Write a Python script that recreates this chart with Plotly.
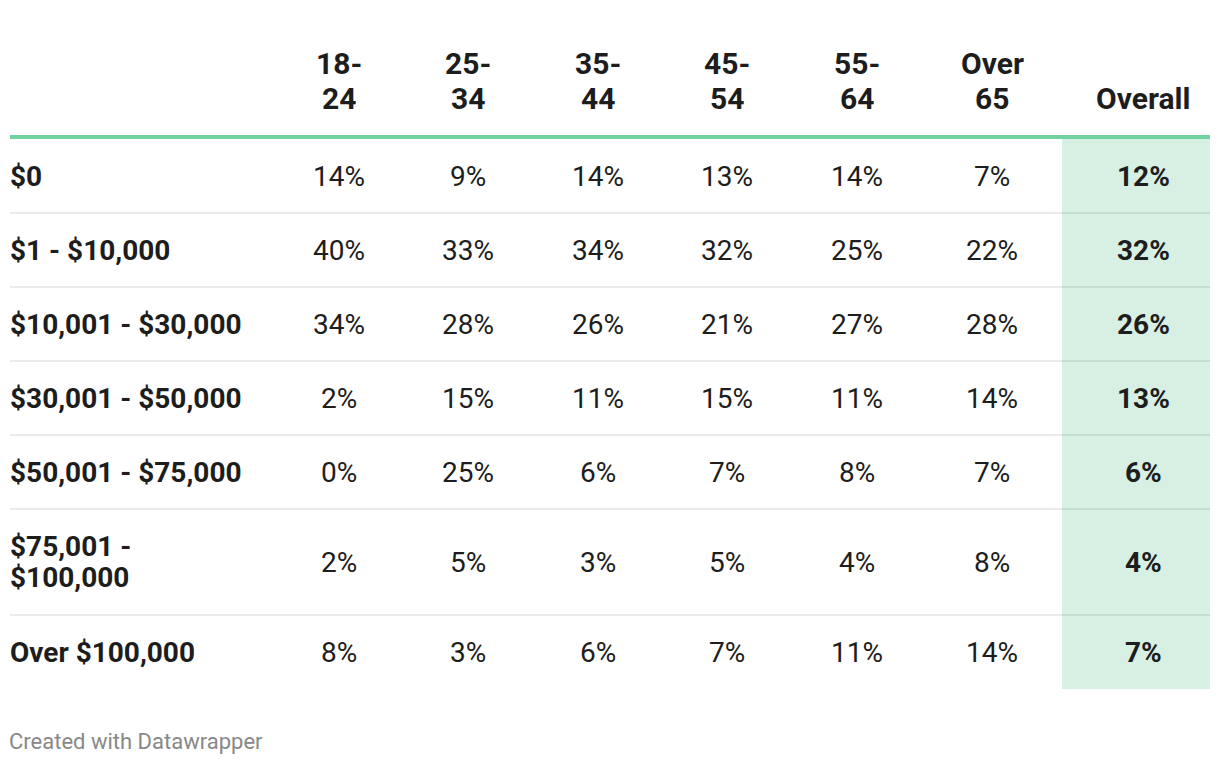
import plotly.graph_objects as go

# ---- data ----
col_labels = ["18-<br>24", "25-<br>34", "35-<br>44", "45-<br>54", "55-<br>64", "Over<br>65", "Overall"]
row_labels = ["$0", "$1 - $10,000", "$10,001 - $30,000", "$30,001 - $50,000",
              "$50,001 - $75,000", "$75,001 -<br>$100,000", "Over $100,000"]
age_18_24 = [14, 40, 34, 2, 0, 2, 8]
age_25_34 = [9, 33, 28, 15, 25, 5, 3]
age_35_44 = [14, 34, 26, 11, 6, 3, 6]
age_45_54 = [13, 32, 21, 15, 7, 5, 7]
age_55_64 = [14, 25, 27, 11, 8, 4, 11]
age_over_65 = [7, 22, 28, 14, 7, 8, 14]
overall = [12, 32, 26, 13, 6, 4, 7]
columns = [age_18_24, age_25_34, age_35_44, age_45_54, age_55_64, age_over_65, overall]
footer = "Created with Datawrapper"

# ---- layout constants ----
W, H = 1220, 764
OFF = 8  # page body margin
left, right = 10, 1210
col_centers = [339, 468, 598, 727, 857, 992, 1143]
header_last_line_y = 98
header_line_h = 35
header_line_y = 137
table_top = 139
base_row_h = 74
extra_line_h = 32
body_line_h = 31
hl_x0 = 1062
FONT = "Roboto"
TXT = "#1d1d1d"
HEAD_SIZE = 30
BODY_SIZE = 28

fig = go.Figure()
shapes = []
annotations = []

# row bounds
row_bounds = []
y = table_top
for lab in row_labels:
    n = lab.count("<br>") + 1
    h = base_row_h + extra_line_h * (n - 1)
    row_bounds.append((y, y + h))
    y += h
table_bottom = y

# highlight column background
shapes.append(dict(type="rect", xref="x", yref="y", x0=hl_x0, x1=right,
                   y0=table_top, y1=table_bottom, fillcolor="#d7f0e3",
                   line=dict(width=0), layer="below"))

# row separators
for (y0, y1) in row_bounds[:-1]:
    shapes.append(dict(type="line", xref="x", yref="y", x0=left, x1=right,
                       y0=y1, y1=y1, line=dict(color="rgba(0,0,0,0.08)", width=2)))

# header line
shapes.append(dict(type="line", xref="x", yref="y", x0=left, x1=right,
                   y0=header_line_y, y1=header_line_y,
                   line=dict(color="#72d3a0", width=4)))

# header texts (each line placed separately for exact line height)
for cx, lab in zip(col_centers, col_labels):
    parts = lab.split("<br>")
    n = len(parts)
    for k, p in enumerate(parts):
        ly = header_last_line_y - (n - 1 - k) * header_line_h
        annotations.append(dict(x=cx, y=ly, xref="x", yref="y", text="<b>" + p + "</b>",
                                showarrow=False, xanchor="center", yanchor="middle",
                                font=dict(family=FONT, size=HEAD_SIZE, color=TXT)))

# body
for i, (lab, (y0, y1)) in enumerate(zip(row_labels, row_bounds)):
    cy = (y0 + y1) / 2
    parts = lab.split("<br>")
    n = len(parts)
    for k, p in enumerate(parts):
        ly = cy + (k - (n - 1) / 2) * body_line_h
        annotations.append(dict(x=left, y=ly, xref="x", yref="y", text="<b>" + p + "</b>",
                                showarrow=False, xanchor="left", yanchor="middle", xshift=-2,
                                font=dict(family=FONT, size=BODY_SIZE, color=TXT)))
    for j, (cx, col) in enumerate(zip(col_centers, columns)):
        t = f"{col[i]}%"
        if j == len(columns) - 1:
            t = "<b>" + t + "</b>"
        annotations.append(dict(x=cx, y=cy, xref="x", yref="y", text=t,
                                showarrow=False, xanchor="center", yanchor="middle",
                                font=dict(family=FONT, size=BODY_SIZE, color=TXT)))

# footer
annotations.append(dict(x=left, y=741, xref="x", yref="y", text=footer, showarrow=False,
                        xanchor="left", yanchor="middle", xshift=-3,
                        font=dict(family=FONT, size=22, color="#888888")))

fig.update_layout(
    width=W, height=H, margin=dict(l=0, r=0, t=0, b=0),
    paper_bgcolor="white", plot_bgcolor="white",
    xaxis=dict(range=[OFF, W + OFF], visible=False, fixedrange=True),
    yaxis=dict(range=[H + OFF, OFF], visible=False, fixedrange=True),
    shapes=shapes, annotations=annotations, showlegend=False,
)
fig.write_html("out.html")
